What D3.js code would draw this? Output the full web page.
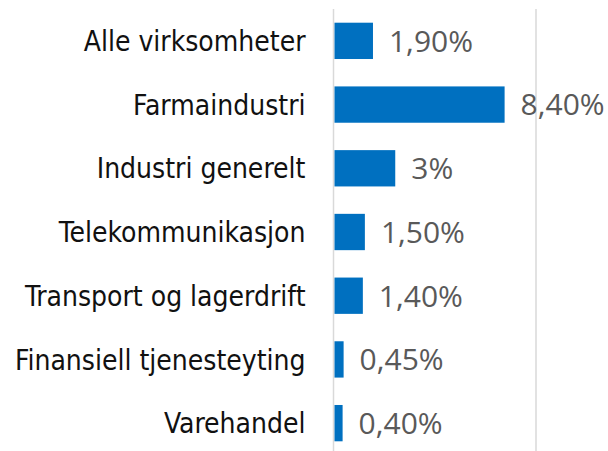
<!DOCTYPE html>
<html>
<head>
<meta charset="utf-8">
<script src="https://cdn.jsdelivr.net/npm/d3@7"></script>
<style>
  body { margin: 0; background: #fff; }
  #chart { width: 608px; height: 451px; }
</style>
</head>
<body>
<div id="chart"></div>
<script>
const categories = [
	"Alle virksomheter",
	"Farmaindustri",
	"Industri generelt",
	"Telekommunikasjon",
	"Transport og lagerdrift",
	"Finansiell tjenesteyting",
	"Varehandel"
];
const values = [1.9, 8.4, 3, 1.5, 1.4, 0.45, 0.4];
const valueLabels = ["1,90%", "8,40%", "3%", "1,50%", "1,40%", "0,45%", "0,40%"];
const gridTicks = [0, 10];

function drawChart(rootDOM){

	const W = rootDOM.clientWidth;
	const H = rootDOM.clientHeight;
	const m = {t:9, r:72, b:-4, l:333.5};

	const data = categories.map((c, i) => ({cat: c, v: values[i], label: valueLabels[i]}));

	const x = d3.scaleLinear()
		.domain([0, 10])
		.range([m.l, W - m.r]);

	const y = d3.scaleBand()
		.domain(categories)
		.range([m.t, H - m.b])
		.paddingInner(0.43)
		.paddingOuter(0.215);

	const svg = d3.select(rootDOM)
		.append("svg")
		.attr("width", W)
		.attr("height", H);

	// gridlines
	svg.selectAll(".grid")
		.data(gridTicks)
		.enter()
		.append("line")
		.attr("class", "grid")
		.attr("x1", d => x(d))
		.attr("x2", d => x(d))
		.attr("y1", m.t)
		.attr("y2", H)
		.attr("stroke", "#d9d9d9")
		.attr("stroke-width", 1.5);

	svg.selectAll(".bar")
		.data(data)
		.enter()
		.append("rect")
		.attr("class", "bar")
		.attr("x", x(0) + 1)
		.attr("y", d => y(d.cat))
		.attr("width", d => x(d.v) - x(0))
		.attr("height", y.bandwidth())
		.attr("fill", "#0070c0");

	// category labels
	svg.selectAll(".cat")
		.data(data)
		.enter()
		.append("text")
		.attr("class", "cat")
		.attr("x", m.l - 28)
		.attr("y", d => y(d.cat) + y.bandwidth()/2)
		.attr("dy", "0.36em")
		.attr("text-anchor", "end")
		.style("font-family", "'DejaVu Sans Condensed', 'Liberation Sans Narrow', 'Noto Sans', sans-serif")
		.style("font-size", "28px")
		.style("fill", "#111")
		.text(d => d.cat);

	// value labels
	svg.selectAll(".val")
		.data(data)
		.enter()
		.append("text")
		.attr("class", "val")
		.attr("x", d => x(d.v) + 17)
		.attr("y", d => y(d.cat) + y.bandwidth()/2)
		.attr("dy", "0.36em")
		.style("font-family", "'Open Sans', 'Noto Sans', sans-serif")
		.style("font-size", "30px")
		.style("fill", "#595959")
		.text(d => d.label);
}

drawChart(document.getElementById("chart"));
</script>
</body>
</html>
